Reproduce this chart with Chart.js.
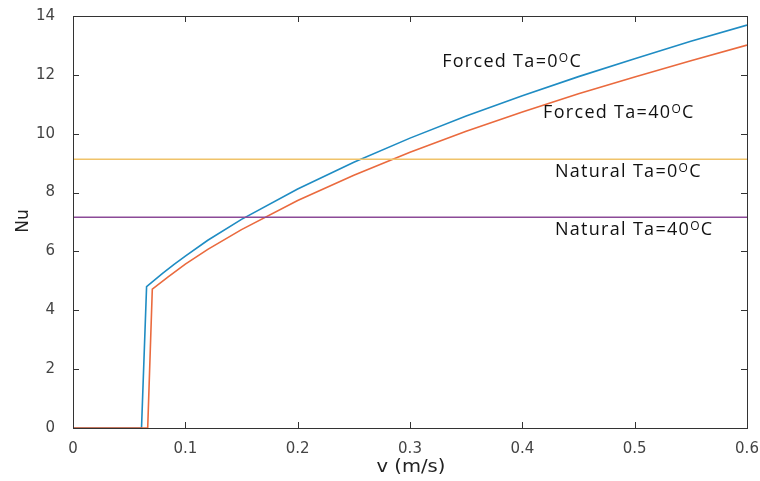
<!DOCTYPE html>
<html>
<head>
<meta charset="utf-8">
<script src="https://cdn.jsdelivr.net/npm/chart.js@4/dist/chart.umd.min.js"></script>
<style>
  html, body { margin: 0; padding: 0; background: #fff; }
  #wrap { width: 760px; height: 481px; }
</style>
</head>
<body>
<div id="wrap"><canvas id="myChart" width="760" height="481"></canvas></div>
<script>
'use strict';

// forced convection, Ta = 0 C
var v0 = [0, 0.061, 0.0655, 0.08, 0.09, 0.1, 0.12, 0.15, 0.2, 0.25, 0.3, 0.35, 0.4, 0.45, 0.5, 0.55, 0.6];
var nu0 = [0, 0, 4.80, 5.26, 5.56, 5.84, 6.38, 7.09, 8.12, 9.03, 9.85, 10.60, 11.29, 11.94, 12.55, 13.14, 13.69];
// forced convection, Ta = 40 C
var v40 = [0, 0.0665, 0.0706, 0.085, 0.1, 0.12, 0.15, 0.2, 0.25, 0.3, 0.35, 0.4, 0.45, 0.5, 0.55, 0.6];
var nu40 = [0, 0, 4.72, 5.14, 5.57, 6.07, 6.74, 7.73, 8.59, 9.37, 10.08, 10.74, 11.36, 11.93, 12.48, 13.01];
// natural convection (constant)
var vNat = [0, 0.6];
var natural0 = [9.13, 9.13];
var natural40 = [7.16, 7.16];

var xTicks = [0, 0.1, 0.2, 0.3, 0.4, 0.5, 0.6];
var yTicks = [0, 2, 4, 6, 8, 10, 12, 14];

var labels = [
  { pre: 'Forced Ta=0', x: 0.3286, y: 12.44 },
  { pre: 'Forced Ta=40', x: 0.4185, y: 10.70 },
  { pre: 'Natural Ta=0', x: 0.429, y: 8.70 },
  { pre: 'Natural Ta=40', x: 0.429, y: 6.73 }
];

function toPoints(xs, ys) {
  var pts = [];
  for (var i = 0; i < xs.length; i++) pts.push({ x: xs[i], y: ys[i] });
  return pts;
}

function lineSet(xs, ys, color) {
  return {
    data: toPoints(xs, ys),
    borderColor: color,
    borderWidth: 1.6,
    pointRadius: 0,
    showLine: true,
    tension: 0,
    fill: false
  };
}

// box, inward ticks, axis titles and the text labels
var decor = {
  id: 'decor',
  afterDraw: function (chart) {
    var ctx = chart.ctx;
    var a = chart.chartArea;
    var xs = chart.scales.x, ys = chart.scales.y;
    ctx.save();
    ctx.strokeStyle = '#333';
    ctx.lineWidth = 1;
    ctx.strokeRect(Math.round(a.left) + 0.5, Math.round(a.top) + 0.5,
      Math.round(a.right - a.left), Math.round(a.bottom - a.top));
    ctx.beginPath();
    xTicks.forEach(function (t) {
      var px = Math.round(xs.getPixelForValue(t)) + 0.5;
      ctx.moveTo(px, a.bottom); ctx.lineTo(px, a.bottom - 6);
      ctx.moveTo(px, a.top); ctx.lineTo(px, a.top + 6);
    });
    yTicks.forEach(function (t) {
      var py = Math.round(ys.getPixelForValue(t)) + 0.5;
      ctx.moveTo(a.left, py); ctx.lineTo(a.left + 6, py);
      ctx.moveTo(a.right, py); ctx.lineTo(a.right - 6, py);
    });
    ctx.stroke();

    // axis titles (reference text is a little stretched sideways)
    ctx.fillStyle = '#222';
    ctx.font = '17px "DejaVu Sans", sans-serif';
    ctx.textAlign = 'center';
    ctx.textBaseline = 'middle';
    ctx.save();
    ctx.translate(411, 468);
    ctx.scale(1.15, 1);
    ctx.fillText('v (m/s)', 0, 0);
    ctx.restore();
    ctx.save();
    ctx.translate(24, 221);
    ctx.rotate(-Math.PI / 2);
    ctx.fillText('Nu', 0, 0);
    ctx.restore();

    // curve labels with a raised O for the degree sign
    ctx.textAlign = 'left';
    ctx.textBaseline = 'alphabetic';
    ctx.fillStyle = '#111';
    labels.forEach(function (l) {
      var px = xs.getPixelForValue(l.x);
      var py = ys.getPixelForValue(l.y) + 5;
      ctx.letterSpacing = '1.3px';
      ctx.font = '18px "Open Sans", sans-serif';
      ctx.fillText(l.pre, px, py);
      var w = ctx.measureText(l.pre).width;
      ctx.font = '12px "Open Sans", sans-serif';
      ctx.fillText('O', px + w, py - 5);
      var w2 = ctx.measureText('O').width;
      ctx.font = '18px "Open Sans", sans-serif';
      ctx.fillText('C', px + w + w2, py);
      ctx.letterSpacing = '0px';
    });
    ctx.restore();
  }
};

var ctx = document.getElementById('myChart').getContext('2d');
var chart = new Chart(ctx, {
  type: 'scatter',
  data: {
    datasets: [
      lineSet(vNat, natural0, '#f0c36a'),
      lineSet(vNat, natural40, '#8b4a97'),
      lineSet(v40, nu40, '#ea6a3e'),
      lineSet(v0, nu0, '#1f8cc3')
    ]
  },
  options: {
    responsive: false,
    animation: false,
    layout: { padding: { top: 16, right: 13, left: 0, bottom: 0 } },
    plugins: {
      legend: { display: false },
      tooltip: { enabled: false }
    },
    scales: {
      x: {
        type: 'linear',
        min: 0, max: 0.6,
        afterBuildTicks: function (s) { s.ticks = xTicks.map(function (v) { return { value: v }; }); },
        afterFit: function (s) { s.height = 53; s.paddingLeft = 0; s.paddingRight = 0; },
        grid: { display: false },
        border: { display: false },
        ticks: {
          color: '#444',
          padding: 4,
          maxRotation: 0,
          font: { family: '"DejaVu Sans", sans-serif', size: 15 }
        }
      },
      y: {
        type: 'linear',
        min: 0, max: 14,
        afterBuildTicks: function (s) { s.ticks = yTicks.map(function (v) { return { value: v }; }); },
        afterFit: function (s) { s.width = 73; s.paddingTop = 0; s.paddingBottom = 0; },
        grid: { display: false },
        border: { display: false },
        ticks: {
          color: '#444',
          padding: 10,
          font: { family: '"DejaVu Sans", sans-serif', size: 15 }
        }
      }
    }
  },
  plugins: [decor]
});
</script>
</body>
</html>
